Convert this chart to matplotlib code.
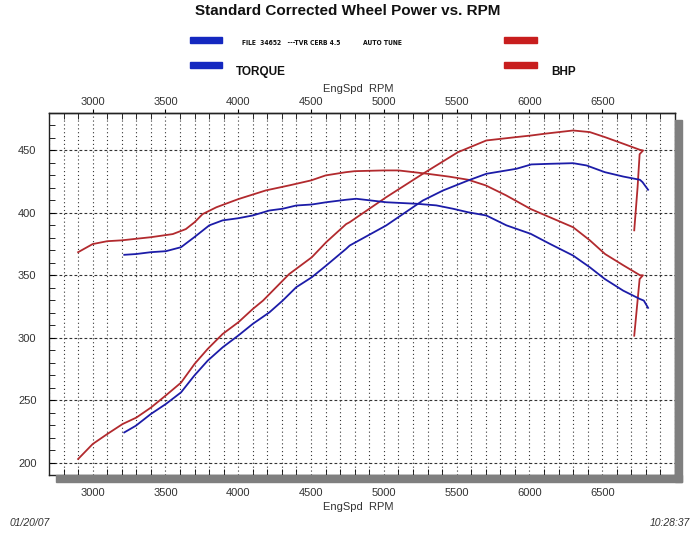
import matplotlib
matplotlib.use("Agg")
import matplotlib.pyplot as plt
from matplotlib.patches import Rectangle
from matplotlib.ticker import MultipleLocator

plt.rcParams['font.family'] = ['Liberation Sans', 'DejaVu Sans']

# ---- data ----
red_tq_rpm = [2900, 3000, 3100, 3200, 3400, 3550, 3640, 3700, 3755, 3850, 4000, 4190,
              4350, 4500, 4600, 4740, 4800, 5000, 5100, 5300, 5450, 5580, 5700, 5840,
              6010, 6140, 6300, 6415, 6520, 6645, 6760, 6780, 6757, 6720]
red_tq_val = [368.5, 375, 377.3, 378, 380.5, 383, 387, 392.5, 399, 404.5, 411, 418,
              422, 426, 430, 432.6, 433.4, 434, 434, 431.3, 429, 426.5, 422, 414,
              403, 396.5, 388.5, 378, 367, 358, 350, 350, 347, 301.6]

red_hp_rpm = [2900, 3000, 3100, 3205, 3300, 3400, 3500, 3607, 3700, 3790, 3893, 4000,
              4100, 4170, 4350, 4505, 4604, 4741, 4765, 5016, 5268, 5509, 5704, 5910,
              6013, 6105, 6300, 6415, 6518, 6644, 6759, 6781, 6757, 6743, 6720]
red_hp_val = [202.8, 214.8, 222.8, 230.8, 236, 244, 253.5, 264, 279, 291, 303, 312.3,
              323, 329.7, 351, 364.4, 376.5, 391, 392.5, 412.5, 431.3, 448.6, 458, 460.7,
              462, 463.4, 466, 464.7, 460.7, 455.4, 450.5, 450, 447, 420.5, 386]

blue_tq_rpm = [3217, 3297, 3400, 3503, 3607, 3698, 3801, 3893, 4000, 4099, 4214, 4305,
               4398, 4505, 4604, 4741, 4810, 5016, 5223, 5360, 5475, 5578, 5704, 5842,
               6009, 6140, 6300, 6415, 6518, 6644, 6759, 6786, 6815]
blue_tq_val = [366.4, 367, 368.5, 369.3, 372.5, 380.5, 390, 394, 395.7, 397.9, 401.9, 403.3,
               405.9, 406.7, 408.5, 410.5, 411.3, 408.5, 407.3, 406, 403.3, 400.5, 397.9, 390,
               383.2, 375.2, 365.8, 356.4, 347, 337.7, 331, 329.7, 323.9]

blue_hp_rpm = [3217, 3297, 3400, 3503, 3607, 3698, 3790, 3893, 4000, 4099, 4214, 4305,
               4398, 4505, 4604, 4741, 4765, 5016, 5268, 5406, 5578, 5704, 5910, 6013,
               6140, 6300, 6392, 6518, 6644, 6759, 6777, 6815]
blue_hp_val = [224.1, 229.5, 238.9, 246.9, 256.2, 269.6, 281.6, 292.3, 301.7, 311, 320.3, 329.7,
               340.4, 348.4, 357.8, 371.2, 373.8, 389.9, 409.9, 417.9, 425.9, 431.3, 435.3, 438.8,
               439.3, 439.8, 438, 432.6, 429.1, 426.5, 424.6, 418.5]

x_ticks = [3000, 3500, 4000, 4500, 5000, 5500, 6000, 6500]
y_ticks = [200, 250, 300, 350, 400, 450]

title = "Standard Corrected Wheel Power vs. RPM"
axis_label = "EngSpd  RPM"
legend_file = "FILE  34652   ---TVR CERB 4.5"
legend_tune = "AUTO TUNE"
legend_tq = "TORQUE"
legend_hp = "BHP"
date_txt = "01/20/07"
time_txt = "10:28:37"

RED = '#b22a2e'
BLUE = '#1c1ca8'
TXT = '#333333'

fig = plt.figure(figsize=(7, 5.39), dpi=100)
W, H = 700, 539

def fx(px):
    return px / W

def fy(py):
    return 1 - py / H

# shadows
fig.patches.append(Rectangle((fx(675), fy(482)), fx(682) - fx(675), fy(120) - fy(482),
                             transform=fig.transFigure, color='#7f7f7f', zorder=0))
fig.patches.append(Rectangle((fx(56), fy(482)), fx(682) - fx(56), fy(475) - fy(482),
                             transform=fig.transFigure, color='#7f7f7f', zorder=0))

ax = fig.add_axes([fx(49), fy(475), fx(675) - fx(49), fy(113) - fy(475)])
ax.set_xlim(2700, 7000)
ax.set_ylim(190, 480)

ax.plot(red_tq_rpm, red_tq_val, color=RED, lw=1.3, zorder=3)
ax.plot(red_hp_rpm, red_hp_val, color=RED, lw=1.3, zorder=3)
ax.plot(blue_tq_rpm, blue_tq_val, color=BLUE, lw=1.3, zorder=3)
ax.plot(blue_hp_rpm, blue_hp_val, color=BLUE, lw=1.3, zorder=3)

# grid
ax.xaxis.set_minor_locator(MultipleLocator(100))
ax.yaxis.set_minor_locator(MultipleLocator(10))
ax.set_xticks(x_ticks)
ax.set_yticks(y_ticks)
ax.grid(True, which='both', axis='x', color='#333333', lw=0.8, ls=(0, (1, 2.5)))
ax.grid(True, which='major', axis='y', color='#333333', lw=0.8, ls=(0, (2.5, 2)))
ax.set_axisbelow(True)

ax.tick_params(axis='x', which='major', direction='out', length=3, width=0.8,
               labelsize=8, labelcolor=TXT, pad=6)
ax.tick_params(axis='x', which='minor', direction='in', length=4, width=0.6)
ax.tick_params(axis='y', which='major', direction='in', length=4, width=0.8,
               labelsize=8, labelcolor=TXT, pad=9)
ax.tick_params(axis='y', which='minor', direction='in', length=4, width=0.6)

top = ax.secondary_xaxis('top')
top.set_xticks(x_ticks)
top.xaxis.set_minor_locator(MultipleLocator(100))
top.tick_params(axis='x', which='major', direction='out', length=3, width=0.8,
                labelsize=8, labelcolor=TXT, pad=1.5)
top.tick_params(axis='x', which='minor', direction='in', length=4, width=0.6)

for s in list(ax.spines.values()) + list(top.spines.values()):
    s.set_color('#222222')
    s.set_linewidth(1.0)

# texts
fig.text(fx(348), fy(11), title, ha='center', va='center', fontsize=11,
         fontweight='bold', color='#111111')
fig.text(fx(358), fy(89), axis_label, ha='center', va='center', fontsize=8, color=TXT)
fig.text(fx(358), fy(507), axis_label, ha='center', va='center', fontsize=8, color=TXT)
fig.text(fx(10), fy(523), date_txt, ha='left', va='center', fontsize=7.5,
         style='italic', color=TXT)
fig.text(fx(690), fy(523), time_txt, ha='right', va='center', fontsize=7.5,
         style='italic', color=TXT)

# legend
for y0 in (40, 65):
    fig.patches.append(Rectangle((fx(190), fy(y0 + 3)), fx(222) - fx(190), fy(y0 - 3) - fy(y0 + 3),
                                 transform=fig.transFigure, color='#1428c0', zorder=2))
    fig.patches.append(Rectangle((fx(504), fy(y0 + 3)), fx(537) - fx(504), fy(y0 - 3) - fy(y0 + 3),
                                 transform=fig.transFigure, color='#c81e1e', zorder=2))
fig.text(fx(242), fy(43), legend_file, ha='left', va='center', fontsize=4.9,
         fontweight='bold', family='DejaVu Sans', fontstretch='condensed', color='#111111')
fig.text(fx(363), fy(43), legend_tune, ha='left', va='center', fontsize=4.9,
         fontweight='bold', family='DejaVu Sans', fontstretch='condensed', color='#111111')
fig.text(fx(236), fy(72), legend_tq, ha='left', va='center', fontsize=8.5,
         fontweight='bold', color='#111111')
fig.text(fx(551), fy(72), legend_hp, ha='left', va='center', fontsize=8.5,
         fontweight='bold', color='#111111')

fig.savefig('out.png', dpi=100)
